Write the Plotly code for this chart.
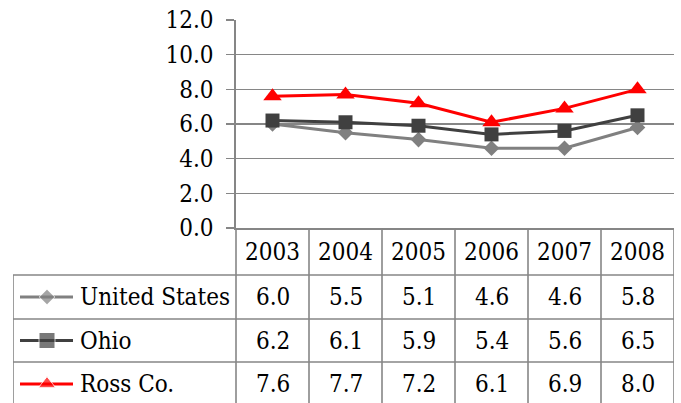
import plotly.graph_objects as go

# ---- data ----
years = ["2003", "2004", "2005", "2006", "2007", "2008"]
us = [6.0, 5.5, 5.1, 4.6, 4.6, 5.8]
ohio = [6.2, 6.1, 5.9, 5.4, 5.6, 6.5]
ross = [7.6, 7.7, 7.2, 6.1, 6.9, 8.0]
series_names = ["United States", "Ohio", "Ross Co."]
y_ticks = [0, 2, 4, 6, 8, 10, 12]

# ---- styles ----
W, H = 681, 403
FONT = "DejaVu Serif Condensed, DejaVu Serif"
FS = 24
GRID = "#868686"
colors = ["#808080", "#404040", "#FF0000"]
symbols = ["diamond", "square", "triangle-up"]
msizes = [12, 14, 16]
leg_msizes = [12, 16, 15]
series = [us, ohio, ross]
LW = 3

# layout geometry (pixels)
plot_l, plot_r, plot_t, plot_b = 236, 674, 20, 228
table_l = 13
unit = (plot_r - plot_l) / len(years)
x2_left = -0.5 - (plot_l - table_l) / unit
row_edges = [0, 47, 91, 134, 178]     # pixel offsets from table top
row_centers = [(row_edges[i] + row_edges[i + 1]) / 2 for i in range(4)]

fig = go.Figure()
xi = list(range(len(years)))
for s, name, c, sym, ms in zip(series, series_names, colors, symbols, msizes):
    fig.add_trace(go.Scatter(
        x=xi, y=s, name=name, mode="lines+markers",
        line=dict(color=c, width=LW),
        marker=dict(symbol=sym, size=ms, color=c),
        cliponaxis=False, xaxis="x", yaxis="y"))

# legend samples in table
def px2x(p):
    return -0.5 + (p - plot_l) / unit

for k, (name, c, sym, ms) in enumerate(zip(series_names, colors, symbols, leg_msizes)):
    yc = row_centers[k + 1]
    fig.add_trace(go.Scatter(
        x=[px2x(20), px2x(47), px2x(73)], y=[yc, yc, yc],
        mode="lines+markers", line=dict(color=c, width=LW),
        marker=dict(symbol=sym, size=[0, ms, 0], color=c),
        xaxis="x2", yaxis="y2", hoverinfo="skip", cliponaxis=False))

shapes = []
line_style = dict(color=GRID, width=1.6)
# vertical column lines
for i in range(len(years) + 1):
    shapes.append(dict(type="line", xref="x2", yref="y2",
                       x0=i - 0.5, x1=i - 0.5, y0=row_edges[0], y1=row_edges[-1],
                       line=line_style))
# left border
shapes.append(dict(type="line", xref="x2", yref="y2",
                   x0=x2_left, x1=x2_left, y0=row_edges[1], y1=row_edges[-1],
                   line=line_style))
# horizontal row lines
for e in row_edges[1:4]:
    shapes.append(dict(type="line", xref="x2", yref="y2",
                       x0=x2_left, x1=len(years) - 0.5, y0=e, y1=e,
                       line=line_style))

annotations = []
tf = dict(family=FONT, size=FS, color="black")
for i, yr in enumerate(years):
    annotations.append(dict(x=i, y=row_centers[0], xref="x2", yref="y2",
                            text=yr, showarrow=False, font=tf,
                            xanchor="center", yanchor="middle"))
for k, s in enumerate(series):
    yc = row_centers[k + 1]
    for i, v in enumerate(s):
        annotations.append(dict(x=i, y=yc, xref="x2", yref="y2",
                                text=f"{v:.1f}", showarrow=False, font=tf,
                                xanchor="center", yanchor="middle"))
    annotations.append(dict(x=px2x(78), y=yc, xref="x2", yref="y2",
                            text=series_names[k], showarrow=False, font=tf,
                            xanchor="left", yanchor="middle"))

fig.update_layout(
    width=W, height=H,
    margin=dict(l=0, r=0, t=0, b=0, autoexpand=False),
    paper_bgcolor="white", plot_bgcolor="white",
    showlegend=False,
    font=dict(family=FONT, size=FS, color="black"),
    xaxis=dict(domain=[plot_l / W, plot_r / W], range=[-0.5, len(years) - 0.5],
               showticklabels=False, showgrid=False, zeroline=False,
               showline=True, linecolor=GRID, linewidth=1.6, ticks="",
               anchor="y", fixedrange=True, automargin=False),
    yaxis=dict(domain=[(H - plot_b) / H, (H - plot_t) / H], range=[0, 12],
               tickvals=y_ticks, tickformat=".1f",
               showgrid=True, gridcolor=GRID, gridwidth=1.6,
               zeroline=False, showline=True, linecolor=GRID, linewidth=1.6,
               ticks="outside", ticklen=8, tickcolor=GRID, tickwidth=1.6,
               ticklabelstandoff=8,
               tickfont=dict(family=FONT, size=FS, color="black"),
               anchor="x", fixedrange=True, automargin=False),
    xaxis2=dict(domain=[table_l / W, plot_r / W], range=[x2_left, len(years) - 0.5],
                visible=False, anchor="y2", fixedrange=True, automargin=False),
    yaxis2=dict(domain=[0, (H - plot_b) / H], range=[H - plot_b, 0],
                visible=False, anchor="x2", fixedrange=True, automargin=False),
    shapes=shapes,
    annotations=annotations,
)

fig.write_html(
    "out.html",
    config={"displayModeBar": False, "staticPlot": True},
    post_script="document.body.style.margin='0';document.body.style.overflow='hidden';",
)
